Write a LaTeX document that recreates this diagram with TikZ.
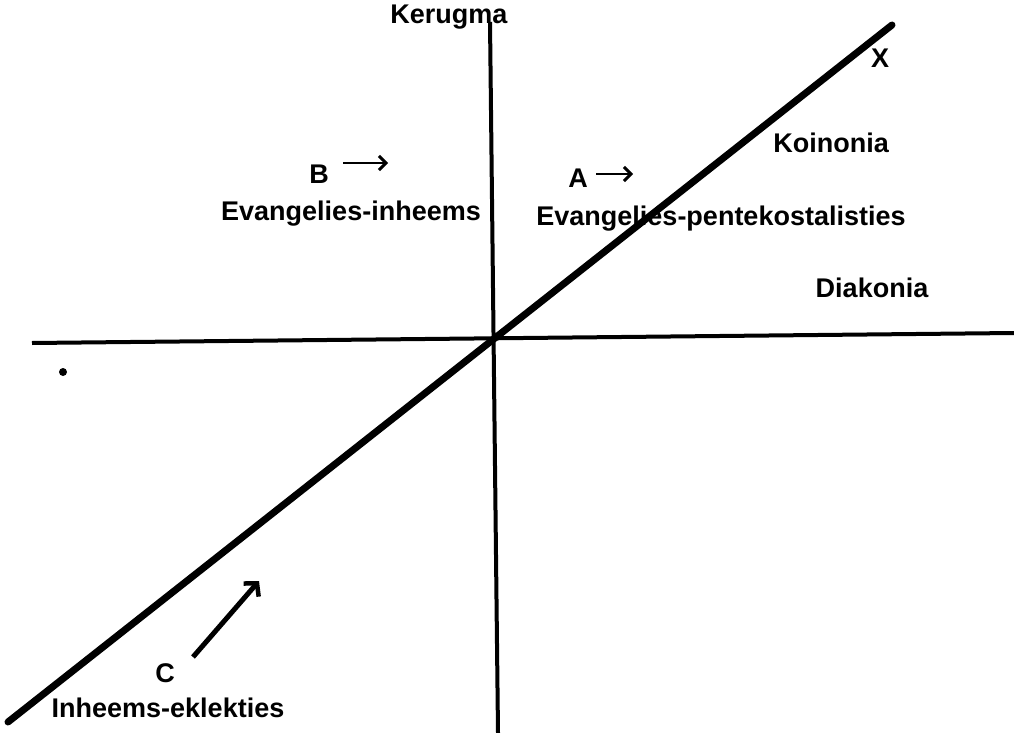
\documentclass[tikz,border=0pt]{standalone}
\usepackage{fontspec}
\setmainfont{Liberation Sans}
\usetikzlibrary{arrows.meta}
\tikzset{
  lbl/.style={font=\bfseries\fontsize{27}{30}\selectfont, inner sep=0pt, anchor=base},
  as/.style={line width=4pt},
  diag/.style={line width=7pt, line cap=round},
  pijl/.style={line width=2.5pt, -{Straight Barb[length=7pt,width=14pt,line width=3pt]}},
  grootpijl/.style={line width=5pt, -{Straight Barb[length=9pt,width=20pt,line width=4.5pt]}}
}

\begin{document}
\begin{tikzpicture}[x=1pt,y=-1pt]
    \useasboundingbox (0,0) rectangle (1014,733);
    % --- ASSE ---
    \coordinate (links) at (32,343);
    \coordinate (regs) at (1014,333);
    \coordinate (bo) at (490,22);
    \coordinate (onder) at (498,733);
    \coordinate (diagonder) at (8,722);
    \coordinate (diagbo) at (892,25);
    \draw[as] (links) -- (regs);
    \draw[as] (bo) -- (onder);
    \draw[diag] (diagonder) -- (diagbo);
    \fill (63,372) circle (4);

    % --- BYSKRIFTE ---
    \node[lbl] (kerugma) at (449,24) {Kerugma};
    \node[lbl] (koinonia) at (831,152) {Koinonia};
    \node[lbl] (diakonia) at (872,297) {Diakonia};
    \node[lbl] (x) at (880,68) {X};
    \node[lbl] (b) at (319,183) {B};
    \node[lbl] (evinh) at (351,220) {Evangelies-inheems};
    \node[lbl] (a) at (578,187) {A};
    \node[lbl] (evpent) at (721,225) {Evangelies-pentekostalisties};
    \node[lbl] (c) at (165,682) {C};
    \node[lbl] (inhekl) at (168,717) {Inheems-eklekties};

    % --- PYLE ---
    \coordinate (b1) at (343,163);
    \coordinate (b2) at (388,163);
    \coordinate (a1) at (596,174);
    \coordinate (a2) at (633,174);
    \coordinate (c1) at (193,657);
    \coordinate (c2) at (259,581);
    \draw[pijl] (b1) -- (b2);
    \draw[pijl] (a1) -- (a2);
    \draw[grootpijl] (c1) -- (c2);
\end{tikzpicture}
\end{document}
